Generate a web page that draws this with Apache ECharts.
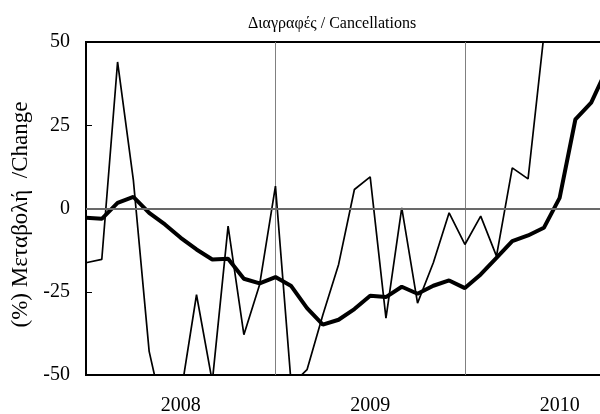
<!DOCTYPE html>
<html>
<head>
<meta charset="utf-8">
<script src="https://cdn.jsdelivr.net/npm/echarts@6/dist/echarts.min.js"></script>
<style>html,body{margin:0;padding:0;background:#fff;}#c{width:600px;height:414px;}</style>
</head>
<body>
<div id="c"></div>
<script>
const months = [
  '2008-01','2008-02','2008-03','2008-04','2008-05','2008-06','2008-07','2008-08','2008-09','2008-10','2008-11','2008-12',
  '2009-01','2009-02','2009-03','2009-04','2009-05','2009-06','2009-07','2009-08','2009-09','2009-10','2009-11','2009-12',
  '2010-01','2010-02','2010-03','2010-04','2010-05','2010-06','2010-07','2010-08','2010-09','2010-10'
];
const monthly = [-16.3, -15.3, 44.0, 8.5, -42.9, -64, -56, -25.9, -52, -5.3, -37.9, -22.8,
  6.7, -53, -48.4, -32, -16.8, 5.7, 9.5, -32.9, 0.2, -28.4, -16.3, -1.3,
  -10.8, -2.3, -14.3, 12.2, 8.9, 52];
const trend = [-2.8, -3.1, 1.7, 3.5, -1.3, -4.8, -8.8, -12.3, -15.3, -15.1, -21.1, -22.5,
  -20.6, -23.3, -29.9, -34.9, -33.4, -30.2, -26.2, -26.6, -23.5, -25.6, -23.2, -21.6,
  -23.9, -19.8, -14.8, -9.8, -8.1, -5.8, 3.2, 26.8, 31.8, 42];
const yearLabels = ['2008', '2009', '2010'];
const titleText = 'Διαγραφές / Cancellations';
const yName = '(%) Μεταβολή  /Change';

const serif = 'Liberation Serif';
const chart = echarts.init(document.getElementById('c'), null, {renderer: 'canvas'});
chart.setOption({
  animation: false,
  backgroundColor: '#fff',
  title: {
    text: titleText, left: 243, top: 11,
    textStyle: {fontFamily: serif, fontSize: 16, fontWeight: 'normal', color: '#000'}
  },
  grid: {left: 86, top: 42, bottom: 39, right: -7, outerBoundsMode: 'none', show: true, borderColor: '#000', borderWidth: 2, containLabel: false},
  xAxis: {
    type: 'category', data: months, boundaryGap: false,
    axisLine: {show: true, lineStyle: {color: '#000', width: 2}},
    axisTick: {show: false},
    axisLabel: {
      interval: (i) => i % 12 === 6,
      formatter: (v, i) => yearLabels[Math.floor(i / 12)],
      fontFamily: serif, fontSize: 20, color: '#000', margin: 21
    },
    splitLine: {show: true, interval: (i) => i % 12 === 0 && i > 0, lineStyle: {color: '#808080', width: 1}}
  },
  yAxis: {
    type: 'value', min: -50, max: 50, interval: 25,
    name: yName, nameLocation: 'middle', nameGap: 45, nameRotate: 90,
    nameTextStyle: {fontFamily: serif, fontSize: 23, color: '#000', padding: [0, 12, 0, 0]},
    axisLine: {show: true, lineStyle: {color: '#000', width: 2}},
    axisTick: {show: true, inside: true, length: 6, lineStyle: {color: '#000', width: 1}},
    axisLabel: {fontFamily: serif, fontSize: 20, color: '#000', margin: 16},
    splitLine: {show: false}
  },
  series: [
    {
      type: 'line', data: monthly, symbol: 'none', clip: true,
      lineStyle: {color: '#000', width: 1.7},
      markLine: {
        silent: true, symbol: 'none', label: {show: false},
        lineStyle: {color: '#8c8c8c', width: 1.5, type: 'solid'},
        data: [{yAxis: 0}]
      },
      z: 3
    },
    {
      type: 'line', data: trend, symbol: 'none', clip: true,
      lineStyle: {color: '#000', width: 4},
      z: 4
    }
  ]
});
</script>
</body>
</html>
